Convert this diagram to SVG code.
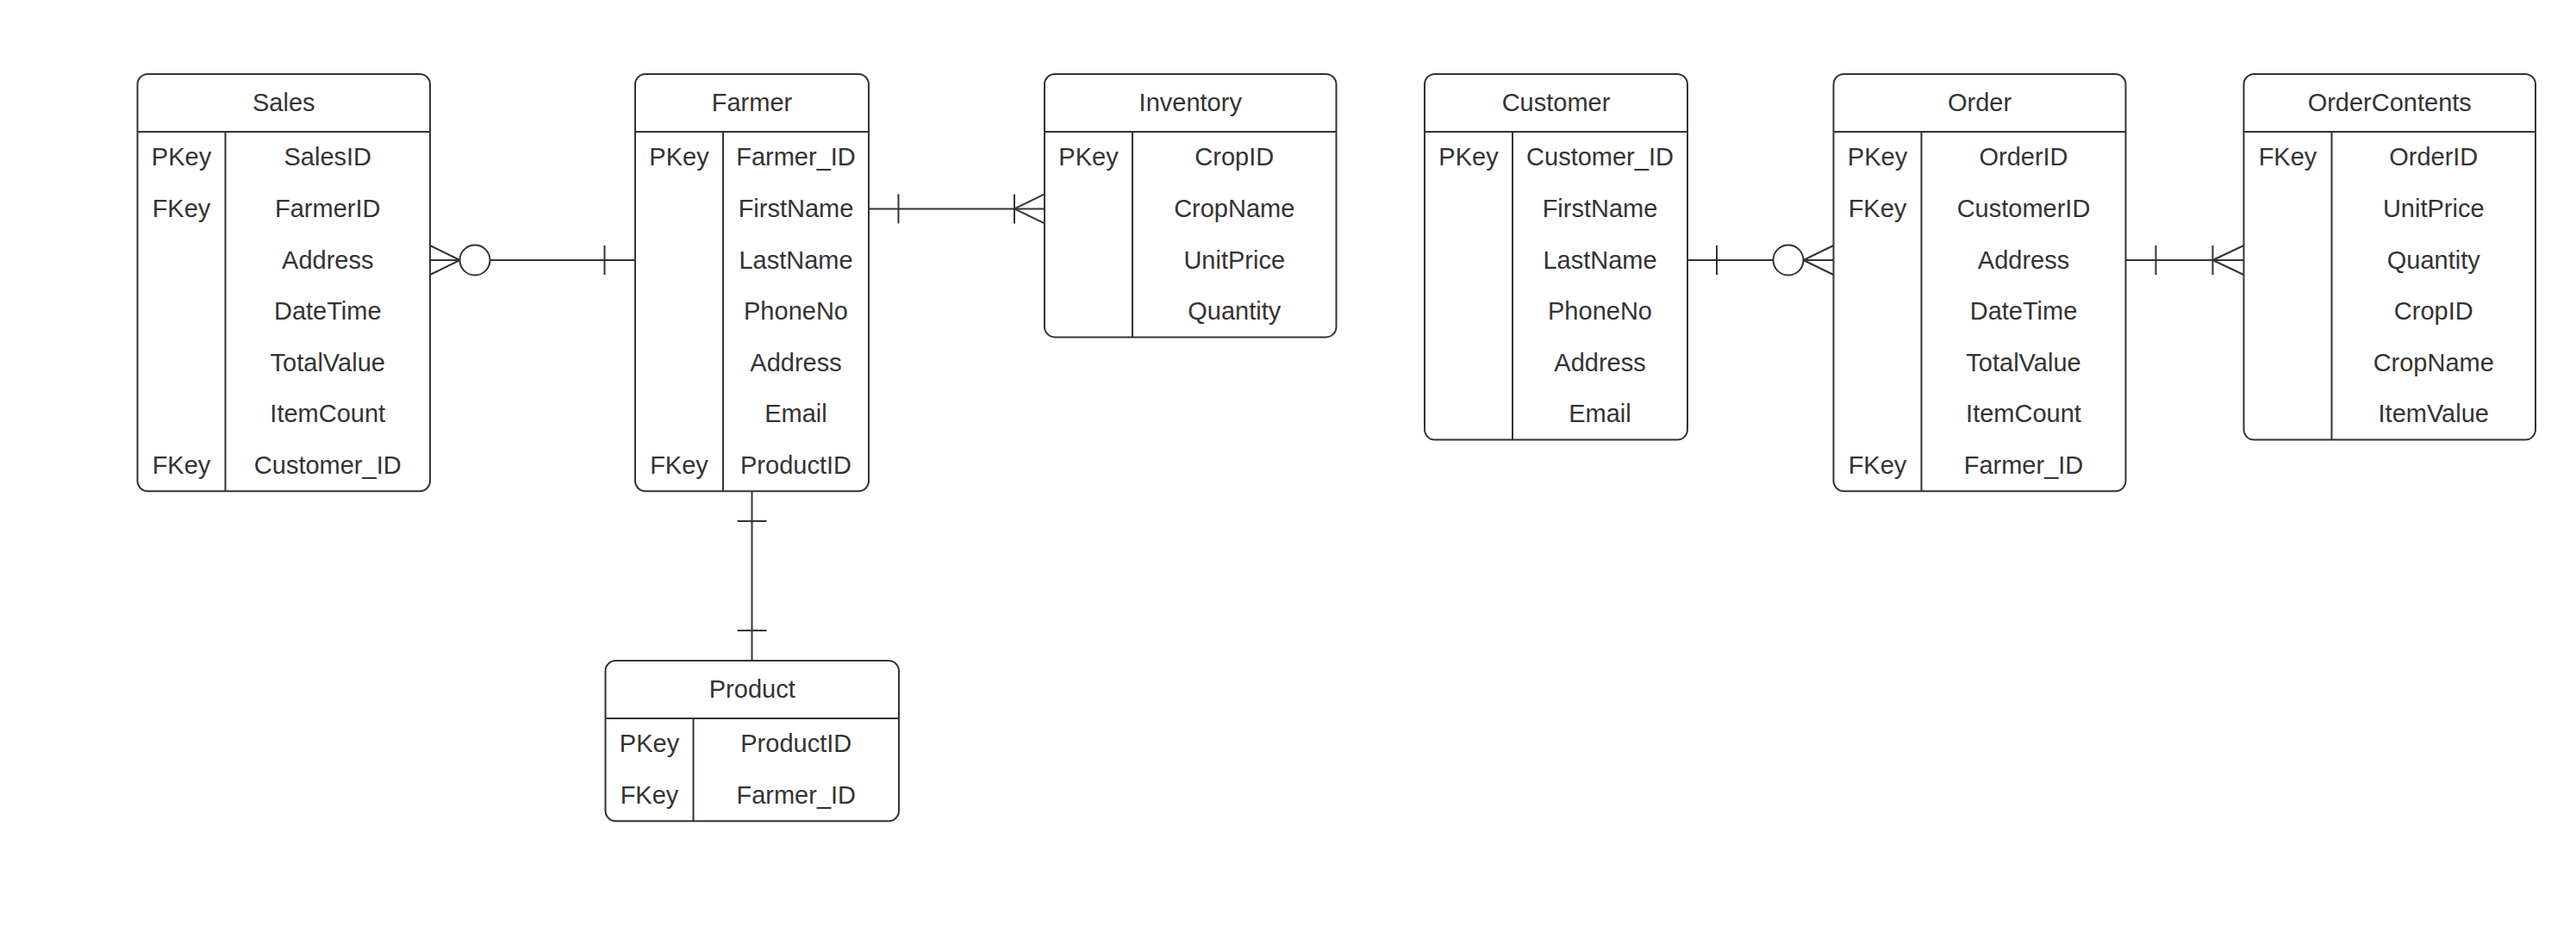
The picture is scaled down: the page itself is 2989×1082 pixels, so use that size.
<svg xmlns="http://www.w3.org/2000/svg" width="2989" height="1082" viewBox="0 0 2989 1082">
<style>
.box{fill:#ffffff;stroke:#333333;stroke-width:2}
.ln{fill:none;stroke:#333333;stroke-width:2}
.circ{fill:#ffffff;stroke:#333333;stroke-width:2}
text{font-family:"Liberation Sans",Arial,sans-serif;font-size:29px;fill:#333333;text-anchor:middle}
</style>
<rect x="0" y="0" width="2989" height="1082" fill="#ffffff"/>
<g id="connectors">
  <!-- Sales - Farmer -->
  <line class="ln" x1="499" y1="302" x2="737" y2="302"/>
  <line class="ln" x1="499" y1="285" x2="533.5" y2="302"/>
  <line class="ln" x1="499" y1="319" x2="533.5" y2="302"/>
  <circle class="circ" cx="551" cy="302" r="17.5"/>
  <line class="ln" x1="701.5" y1="285" x2="701.5" y2="319"/>
  <!-- Farmer - Inventory -->
  <line class="ln" x1="1008" y1="242.4" x2="1212" y2="242.4"/>
  <line class="ln" x1="1042.5" y1="225.4" x2="1042.5" y2="259.4"/>
  <line class="ln" x1="1177" y1="225.4" x2="1177" y2="259.4"/>
  <line class="ln" x1="1212" y1="225.4" x2="1177" y2="242.4"/>
  <line class="ln" x1="1212" y1="259.4" x2="1177" y2="242.4"/>
  <!-- Customer - Order -->
  <line class="ln" x1="1958" y1="302" x2="2127.5" y2="302"/>
  <line class="ln" x1="1992" y1="285" x2="1992" y2="319"/>
  <line class="ln" x1="2127.5" y1="285" x2="2092.5" y2="302"/>
  <line class="ln" x1="2127.5" y1="319" x2="2092.5" y2="302"/>
  <circle class="circ" cx="2075" cy="302" r="17.5"/>
  <!-- Order - OrderContents -->
  <line class="ln" x1="2466.5" y1="302" x2="2603.5" y2="302"/>
  <line class="ln" x1="2501.5" y1="285" x2="2501.5" y2="319"/>
  <line class="ln" x1="2567.5" y1="285" x2="2567.5" y2="319"/>
  <line class="ln" x1="2603.5" y1="285" x2="2567.5" y2="302"/>
  <line class="ln" x1="2603.5" y1="319" x2="2567.5" y2="302"/>
  <!-- Farmer - Product -->
  <line class="ln" x1="872.5" y1="570.2" x2="872.5" y2="767"/>
  <line class="ln" x1="855.5" y1="605" x2="889.5" y2="605"/>
  <line class="ln" x1="855.5" y1="732" x2="889.5" y2="732"/>
</g>
<g id="sales">
  <rect class="box" x="159.5" y="86" width="339.5" height="484.2" rx="12"/>
  <line class="ln" x1="159.5" y1="153" x2="499" y2="153"/>
  <line class="ln" x1="261.5" y1="153" x2="261.5" y2="570.2"/>
  <text x="329.25" y="129">Sales</text>
  <text x="210.5" y="192.3">PKey</text>
  <text x="210.5" y="251.9">FKey</text>
  <text x="210.5" y="549.9">FKey</text>
  <text x="380.25" y="192.3">SalesID</text>
  <text x="380.25" y="251.9">FarmerID</text>
  <text x="380.25" y="311.5">Address</text>
  <text x="380.25" y="371.1">DateTime</text>
  <text x="380.25" y="430.7">TotalValue</text>
  <text x="380.25" y="490.3">ItemCount</text>
  <text x="380.25" y="549.9">Customer_ID</text>
</g>
<g id="farmer">
  <rect class="box" x="737" y="86" width="271" height="484.2" rx="12"/>
  <line class="ln" x1="737" y1="153" x2="1008" y2="153"/>
  <line class="ln" x1="839" y1="153" x2="839" y2="570.2"/>
  <text x="872.5" y="129">Farmer</text>
  <text x="788" y="192.3">PKey</text>
  <text x="788" y="549.9">FKey</text>
  <text x="923.5" y="192.3">Farmer_ID</text>
  <text x="923.5" y="251.9">FirstName</text>
  <text x="923.5" y="311.5">LastName</text>
  <text x="923.5" y="371.1">PhoneNo</text>
  <text x="923.5" y="430.7">Address</text>
  <text x="923.5" y="490.3">Email</text>
  <text x="923.5" y="549.9">ProductID</text>
</g>
<g id="inventory">
  <rect class="box" x="1212" y="86" width="338.5" height="305.4" rx="12"/>
  <line class="ln" x1="1212" y1="153" x2="1550.5" y2="153"/>
  <line class="ln" x1="1314" y1="153" x2="1314" y2="391.4"/>
  <text x="1381.25" y="129">Inventory</text>
  <text x="1263" y="192.3">PKey</text>
  <text x="1432.25" y="192.3">CropID</text>
  <text x="1432.25" y="251.9">CropName</text>
  <text x="1432.25" y="311.5">UnitPrice</text>
  <text x="1432.25" y="371.1">Quantity</text>
</g>
<g id="customer">
  <rect class="box" x="1653" y="86" width="305" height="424.6" rx="12"/>
  <line class="ln" x1="1653" y1="153" x2="1958" y2="153"/>
  <line class="ln" x1="1755" y1="153" x2="1755" y2="510.6"/>
  <text x="1805.5" y="129">Customer</text>
  <text x="1704" y="192.3">PKey</text>
  <text x="1856.5" y="192.3">Customer_ID</text>
  <text x="1856.5" y="251.9">FirstName</text>
  <text x="1856.5" y="311.5">LastName</text>
  <text x="1856.5" y="371.1">PhoneNo</text>
  <text x="1856.5" y="430.7">Address</text>
  <text x="1856.5" y="490.3">Email</text>
</g>
<g id="order">
  <rect class="box" x="2127.5" y="86" width="339" height="484.2" rx="12"/>
  <line class="ln" x1="2127.5" y1="153" x2="2466.5" y2="153"/>
  <line class="ln" x1="2229.5" y1="153" x2="2229.5" y2="570.2"/>
  <text x="2297" y="129">Order</text>
  <text x="2178.5" y="192.3">PKey</text>
  <text x="2178.5" y="251.9">FKey</text>
  <text x="2178.5" y="549.9">FKey</text>
  <text x="2348" y="192.3">OrderID</text>
  <text x="2348" y="251.9">CustomerID</text>
  <text x="2348" y="311.5">Address</text>
  <text x="2348" y="371.1">DateTime</text>
  <text x="2348" y="430.7">TotalValue</text>
  <text x="2348" y="490.3">ItemCount</text>
  <text x="2348" y="549.9">Farmer_ID</text>
</g>
<g id="ordercontents">
  <rect class="box" x="2603.5" y="86" width="338.5" height="424.6" rx="12"/>
  <line class="ln" x1="2603.5" y1="153" x2="2942" y2="153"/>
  <line class="ln" x1="2705.5" y1="153" x2="2705.5" y2="510.6"/>
  <text x="2772.75" y="129">OrderContents</text>
  <text x="2654.5" y="192.3">FKey</text>
  <text x="2823.75" y="192.3">OrderID</text>
  <text x="2823.75" y="251.9">UnitPrice</text>
  <text x="2823.75" y="311.5">Quantity</text>
  <text x="2823.75" y="371.1">CropID</text>
  <text x="2823.75" y="430.7">CropName</text>
  <text x="2823.75" y="490.3">ItemValue</text>
</g>
<g id="product">
  <rect class="box" x="702.5" y="767" width="340.5" height="186.2" rx="12"/>
  <line class="ln" x1="702.5" y1="834" x2="1043" y2="834"/>
  <line class="ln" x1="804.5" y1="834" x2="804.5" y2="953.2"/>
  <text x="872.75" y="810">Product</text>
  <text x="753.5" y="873.3">PKey</text>
  <text x="753.5" y="932.9">FKey</text>
  <text x="923.75" y="873.3">ProductID</text>
  <text x="923.75" y="932.9">Farmer_ID</text>
</g>
</svg>
